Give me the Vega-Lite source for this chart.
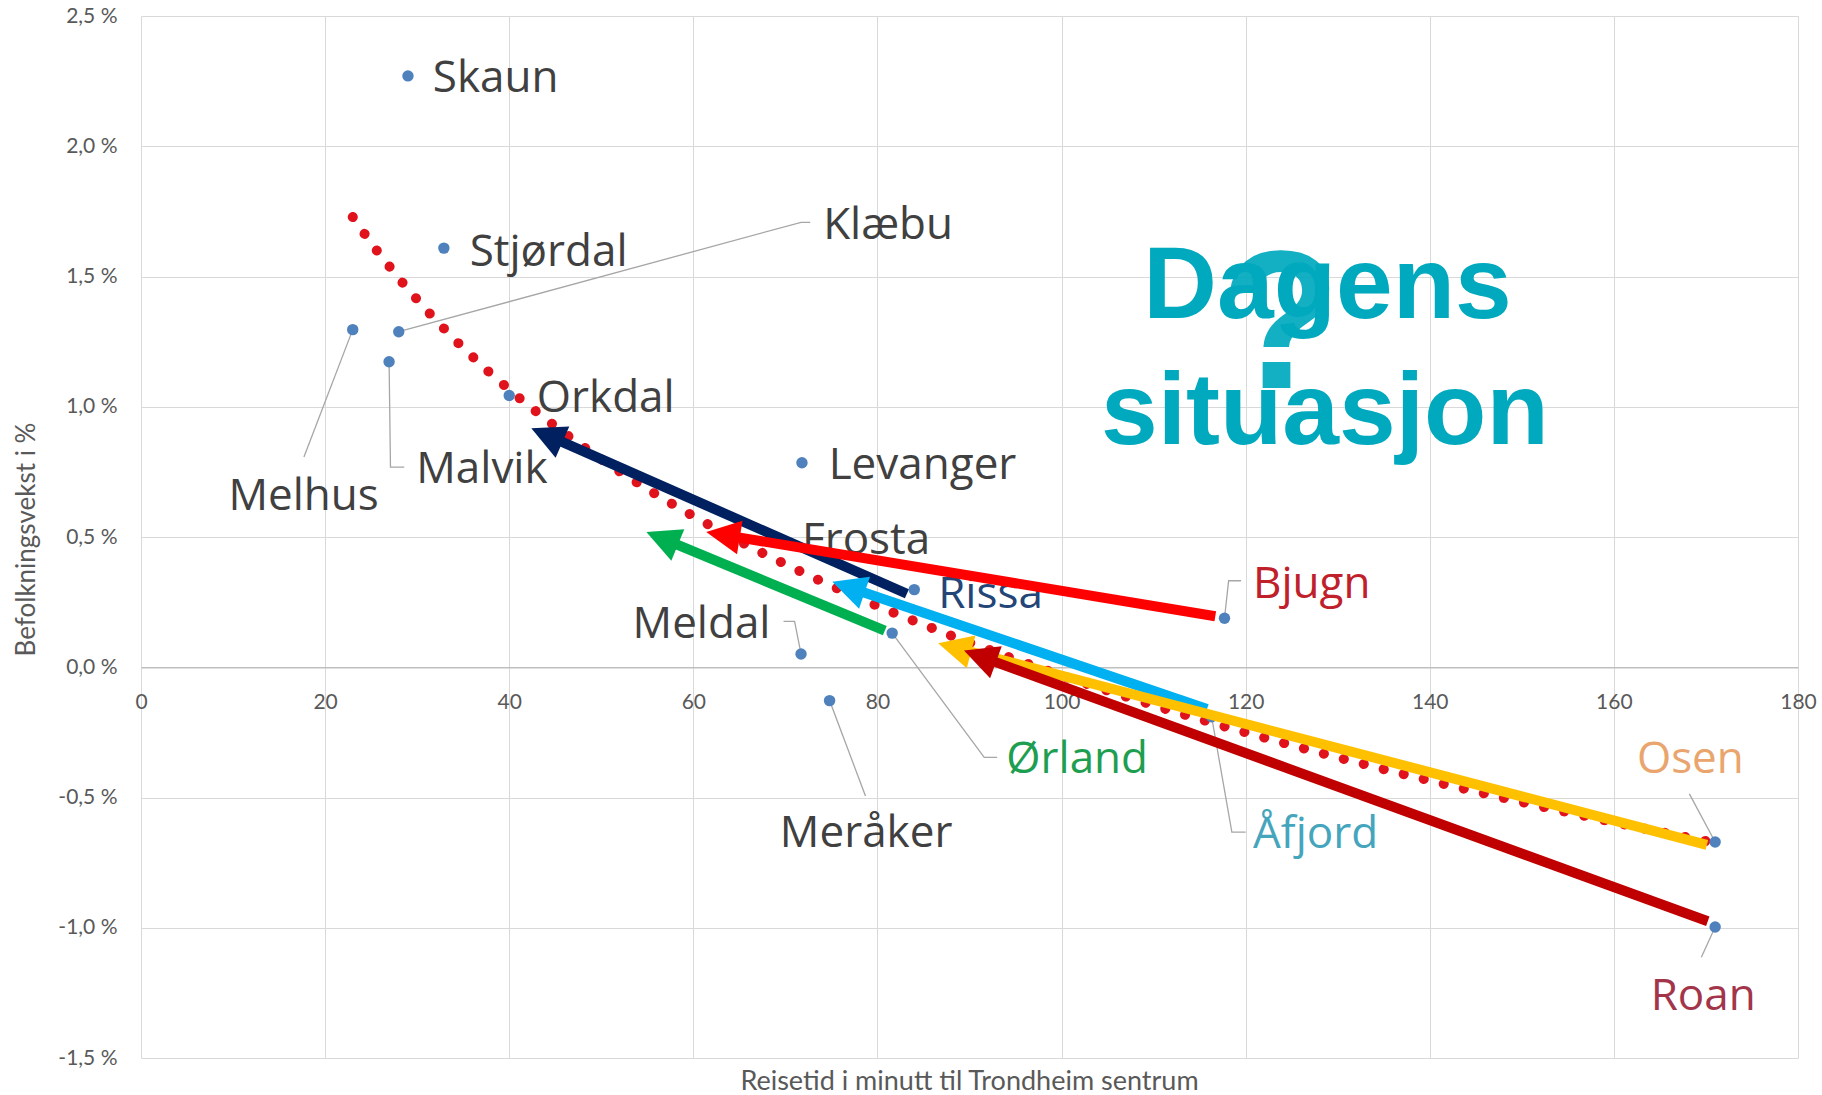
{
  "$schema": "https://vega.github.io/schema/vega-lite/v6.json",
  "width": 1657,
  "height": 1042,
  "autosize": {"type": "none"},
  "padding": {"left": 141, "top": 16, "right": 24, "bottom": 37},
  "background": "white",
  "config": {"view": {"stroke": null}, "axis": {"labelFont": "Lato", "titleFont": "Lato"}},
  "title": {"text": "Reisetid i minutt til Trondheim sentrum", "orient": "bottom", "frame": "group", "anchor": "middle", "offset": 1, "fontSize": 27, "font": "Lato", "fontWeight": "normal", "color": "#595959", "baseline": "top"},
  "datasets": {
    "kommuner": [
      {"name": "Skaun", "x": 29.0, "y": 2.27, "lx": 31.7, "ly": 2.207},
      {"name": "Stjørdal", "x": 32.9, "y": 1.609, "lx": 35.7, "ly": 1.542},
      {"name": "Melhus", "x": 23.0, "y": 1.296, "lx": 9.5, "ly": 0.603},
      {"name": "Klæbu", "x": 28.0, "y": 1.288, "lx": 74.1, "ly": 1.644},
      {"name": "Malvik", "x": 26.95, "y": 1.173, "lx": 29.9, "ly": 0.706},
      {"name": "Orkdal", "x": 40.0, "y": 1.043, "lx": 43.0, "ly": 0.98},
      {"name": "Levanger", "x": 71.8, "y": 0.785, "lx": 74.7, "ly": 0.722},
      {"name": "Frosta", "x": 69.0, "y": 0.49, "lx": 71.8, "ly": 0.435},
      {"name": "Rissa", "x": 84.0, "y": 0.298, "lx": 86.6, "ly": 0.228},
      {"name": "Meldal", "x": 71.7, "y": 0.051, "lx": 53.4, "ly": 0.111},
      {"name": "Ørland", "x": 81.6, "y": 0.131, "lx": 94.0, "ly": -0.405},
      {"name": "Meråker", "x": 74.8, "y": -0.128, "lx": 69.4, "ly": -0.69},
      {"name": "Bjugn", "x": 117.7, "y": 0.188, "lx": 120.8, "ly": 0.266},
      {"name": "Åfjord", "x": 116.3, "y": -0.19, "lx": 120.8, "ly": -0.693},
      {"name": "Osen", "x": 171.0, "y": -0.671, "lx": 162.5, "ly": -0.405},
      {"name": "Roan", "x": 171.0, "y": -0.997, "lx": 164.0, "ly": -1.314}
    ],
    "leaders": [
      {"name": "Melhus", "o": 0, "x": 23.0, "y": 1.296},
      {"name": "Melhus", "o": 1, "x": 17.7, "y": 0.807},
      {"name": "Klæbu", "o": 0, "x": 28.0, "y": 1.288},
      {"name": "Klæbu", "o": 1, "x": 71.7, "y": 1.708},
      {"name": "Klæbu", "o": 2, "x": 72.7, "y": 1.708},
      {"name": "Malvik", "o": 0, "x": 26.95, "y": 1.173},
      {"name": "Malvik", "o": 1, "x": 27.1, "y": 0.768},
      {"name": "Malvik", "o": 2, "x": 28.6, "y": 0.768},
      {"name": "Meldal", "o": 0, "x": 71.7, "y": 0.051},
      {"name": "Meldal", "o": 1, "x": 71.0, "y": 0.176},
      {"name": "Meldal", "o": 2, "x": 69.8, "y": 0.176},
      {"name": "Ørland", "o": 0, "x": 81.6, "y": 0.131},
      {"name": "Ørland", "o": 1, "x": 91.6, "y": -0.346},
      {"name": "Ørland", "o": 2, "x": 93.0, "y": -0.346},
      {"name": "Meråker", "o": 0, "x": 74.8, "y": -0.128},
      {"name": "Meråker", "o": 1, "x": 78.7, "y": -0.494},
      {"name": "Bjugn", "o": 0, "x": 117.7, "y": 0.188},
      {"name": "Bjugn", "o": 1, "x": 118.15, "y": 0.332},
      {"name": "Bjugn", "o": 2, "x": 119.5, "y": 0.332},
      {"name": "Åfjord", "o": 0, "x": 116.3, "y": -0.19},
      {"name": "Åfjord", "o": 1, "x": 118.5, "y": -0.633},
      {"name": "Åfjord", "o": 2, "x": 120.0, "y": -0.633},
      {"name": "Osen", "o": 0, "x": 171.0, "y": -0.671},
      {"name": "Osen", "o": 1, "x": 168.2, "y": -0.486},
      {"name": "Roan", "o": 0, "x": 171.0, "y": -0.997},
      {"name": "Roan", "o": 1, "x": 169.5, "y": -1.113}
    ],
    "arrows": [
      {"arrow": "Rissa", "x": 83.2, "y": 0.282, "x2": 42.4, "y2": 0.917},
      {"arrow": "Ørland", "x": 80.8, "y": 0.141, "x2": 54.9, "y2": 0.519},
      {"arrow": "Åfjord", "x": 115.8, "y": -0.16, "x2": 75.1, "y2": 0.328},
      {"arrow": "Bjugn", "x": 116.7, "y": 0.196, "x2": 61.4, "y2": 0.519},
      {"arrow": "Osen", "x": 170.1, "y": -0.682, "x2": 86.6, "y2": 0.092},
      {"arrow": "Roan", "x": 170.2, "y": -0.975, "x2": 89.4, "y2": 0.064}
    ],
    "big": [
      {"t": "Dagens", "x": 128.9, "y": 1.341},
      {"t": "situasjon", "x": 128.6, "y": 0.857}
    ],
    "q": [
      {"t": "?", "x": 123.8, "y": 1.072}
    ]
  },
  "resolve": {"scale": {"color": "independent"}},
  "layer": [
    {
      "data": {"name": "kommuner"},
      "transform": [{"regression": "y", "on": "x", "method": "log"}],
      "mark": {"type": "line", "color": "#e0121b", "strokeWidth": 10, "strokeDash": [0.1, 20.5], "strokeCap": "round"},
      "encoding": {
        "x": {
          "field": "x", "type": "quantitative",
          "scale": {"domain": [0, 180], "nice": false, "zero": false},
          "axis": {
            "values": [0, 20, 40, 60, 80, 100, 120, 140, 160, 180],
            "offset": -390.75,
            "grid": true, "gridColor": "#d9d9d9", "gridWidth": 1,
            "domain": true, "domainColor": "#bfbfbf", "domainWidth": 1.5,
            "ticks": false, "labelPadding": 24, "labelFontSize": 21, "labelColor": "#595959",
            "labelFlush": false, "title": null
          }
        },
        "y": {
          "field": "y", "type": "quantitative",
          "scale": {"domain": [-1.5, 2.5], "nice": false, "zero": false},
          "axis": {
            "values": [-1.5, -1, -0.5, 0, 0.5, 1, 1.5, 2, 2.5],
            "grid": true, "gridColor": "#d9d9d9", "gridWidth": 1,
            "domain": false, "ticks": false, "labelPadding": 24, "labelFontSize": 21, "labelColor": "#595959",
            "labelFlush": false,
            "labelExpr": "replace(replace(format(datum.value, '.1f'), '.', ','), '\u2212', '-') + ' %'",
            "title": "Befolkningsvekst i %", "titleFontSize": 26, "titleFontWeight": "normal", "titleColor": "#595959",
            "titleX": -115, "titleY": 523, "titleAngle": 270, "titleAlign": "center", "titleBaseline": "middle"
          }
        }
      }
    },
    {
      "data": {"name": "leaders"},
      "mark": {"type": "line", "color": "#a6a6a6", "strokeWidth": 1.3},
      "encoding": {
        "x": {"field": "x", "type": "quantitative"},
        "y": {"field": "y", "type": "quantitative"},
        "detail": {"field": "name", "type": "nominal"},
        "order": {"field": "o", "type": "quantitative"}
      }
    },
    {
      "data": {"name": "kommuner"},
      "mark": {"type": "circle", "size": 130, "color": "#4f81bd", "opacity": 1},
      "encoding": {
        "x": {"field": "x", "type": "quantitative"},
        "y": {"field": "y", "type": "quantitative"}
      }
    },
    {
      "data": {"name": "kommuner"},
      "mark": {"type": "text", "align": "left", "baseline": "alphabetic", "font": "Open Sans", "fontSize": 44},
      "encoding": {
        "x": {"field": "lx", "type": "quantitative"},
        "y": {"field": "ly", "type": "quantitative"},
        "text": {"field": "name"},
        "color": {
          "field": "name", "type": "nominal", "legend": null,
          "scale": {
            "domain": ["Skaun", "Stjørdal", "Melhus", "Klæbu", "Malvik", "Orkdal", "Levanger", "Frosta", "Rissa", "Meldal", "Ørland", "Meråker", "Bjugn", "Åfjord", "Osen", "Roan"],
            "range": ["#404040", "#404040", "#404040", "#404040", "#404040", "#404040", "#404040", "#404040", "#244577", "#404040", "#1e9e50", "#404040", "#c0202a", "#45a5bd", "#e9a56d", "#a3354a"]
          }
        }
      }
    },
    {
      "data": {"name": "arrows"},
      "transform": [
        {"calculate": "(datum.x2 - datum.x) * 9.206", "as": "dxs"},
        {"calculate": "(datum.y2 - datum.y) * 260.5", "as": "dys"},
        {"calculate": "sqrt(datum.dxs * datum.dxs + datum.dys * datum.dys)", "as": "len"},
        {"calculate": "atan2(datum.dxs, datum.dys) * 180 / PI + 360", "as": "ang"},
        {"calculate": "datum.x2 - (datum.x2 - datum.x) * 28 / datum.len", "as": "bx"},
        {"calculate": "datum.y2 - (datum.y2 - datum.y) * 28 / datum.len", "as": "by"}
      ],
      "layer": [
        {
          "mark": {"type": "rule", "strokeWidth": 10, "strokeCap": "butt"},
          "encoding": {
            "x": {"field": "x", "type": "quantitative"},
            "y": {"field": "y", "type": "quantitative"},
            "x2": {"field": "bx"},
            "y2": {"field": "by"},
            "color": {
              "field": "arrow", "type": "nominal", "legend": null,
              "scale": {"domain": ["Rissa", "Ørland", "Åfjord", "Bjugn", "Osen", "Roan"], "range": ["#002060", "#00b050", "#00b0f0", "#ff0000", "#ffc000", "#c00000"]}
            }
          }
        },
        {
          "mark": {"type": "point", "shape": "M0,0L1,2L-1,2Z", "filled": true, "size": 1156, "opacity": 1, "strokeWidth": 0},
          "encoding": {
            "x": {"field": "x2", "type": "quantitative"},
            "y": {"field": "y2", "type": "quantitative"},
            "angle": {"field": "ang", "type": "quantitative", "scale": null},
            "color": {
              "field": "arrow", "type": "nominal", "legend": null,
              "scale": {"domain": ["Rissa", "Ørland", "Åfjord", "Bjugn", "Osen", "Roan"], "range": ["#002060", "#00b050", "#00b0f0", "#ff0000", "#ffc000", "#c00000"]}
            }
          }
        }
      ]
    },
    {
      "data": {"name": "big"},
      "mark": {"type": "text", "font": "Liberation Sans", "fontWeight": "bold", "fontSize": 102, "align": "center", "baseline": "alphabetic", "color": "#00a9be"},
      "encoding": {
        "x": {"field": "x", "type": "quantitative"},
        "y": {"field": "y", "type": "quantitative"},
        "text": {"field": "t"}
      }
    },
    {
      "data": {"name": "q"},
      "mark": {"type": "text", "font": "Liberation Sans", "fontWeight": "bold", "fontSize": 196, "align": "center", "baseline": "alphabetic", "color": "#00a9be", "opacity": 0.92},
      "encoding": {
        "x": {"field": "x", "type": "quantitative"},
        "y": {"field": "y", "type": "quantitative"},
        "text": {"field": "t"}
      }
    }
  ]
}
